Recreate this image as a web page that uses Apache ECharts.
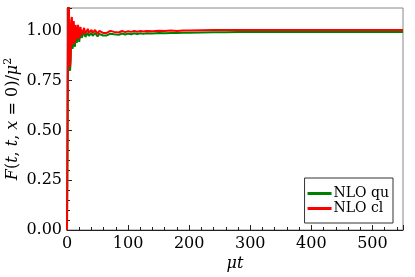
<!DOCTYPE html>
<html><head><meta charset="utf-8">
<script src="https://cdn.jsdelivr.net/npm/echarts@6/dist/echarts.min.js"></script>
<style>html,body{margin:0;padding:0;background:#fff}#c{width:415px;height:277px}</style>
</head><body><div id="c"></div>
<script>
var tValues = [0,1,2,3,4,5,6,7,8,9,10,11,12,13,14,15,16,17,18,19,20,22,24,26,28,30,32,34,36,38,40,42,44,46,48,50,53,56,59,62,65,68,71,74,77,80,85,90,95,100,105,110,115,120,125,130,140,150,160,170,180,190,200,220,240,260,280,300,350,400,450,500,550];
var nloQu = [0,0.5,1.12,1.10,0.92,0.80,0.85,1.01,1.03,0.91,0.93,1.02,0.97,0.92,1.0,1.01,0.94,0.95,1.0,0.98,0.945,1.0,0.965,0.96,0.995,0.97,0.965,0.99,0.975,0.97,0.99,0.975,0.97,0.99,0.98,0.972,0.985,0.976,0.977,0.986,0.977,0.982,0.986,0.978,0.983,0.987,0.98,0.987,0.982,0.987,0.983,0.988,0.984,0.988,0.985,0.988,0.987,0.989,0.988,0.99,0.989,0.991,0.991,0.992,0.993,0.993,0.994,0.994,0.995,0.995,0.995,0.995,0.995];
var nloCl = [0,0.55,1.20,1.15,0.95,0.82,0.88,1.05,1.07,0.93,0.96,1.05,0.99,0.94,1.03,1.04,0.96,0.97,1.03,1.0,0.96,1.02,0.98,0.975,1.015,0.985,0.98,1.01,0.99,0.985,1.005,0.99,0.985,1.005,0.995,0.985,1.0,0.99,0.99,1.0,0.99,0.995,1.0,0.99,0.995,1.0,0.992,1.0,0.994,0.999,0.995,1.0,0.996,1.0,0.997,1.0,0.998,1.001,0.999,1.002,1.0,1.002,1.002,1.003,1.004,1.004,1.005,1.005,1.005,1.005,1.005,1.005,1.005];
var seriesNames = ['NLO qu','NLO cl'];
var seriesColors = ['#008000','#ff0000'];
var xTicks = [0,100,200,300,400,500];
var yTicks = [0,0.25,0.5,0.75,1.0];

function pairs(v){ return tValues.map(function(t,i){return [t,v[i]];}); }
var FONT = 'DejaVu Serif';
var chart = echarts.init(document.getElementById('c'), null, {renderer:'canvas'});
chart.setOption({
  animation:false,
  backgroundColor:'#fff',
  grid:{left:67,right:12,top:8,bottom:47,show:true,borderColor:'#888',borderWidth:1,backgroundColor:'transparent',containLabel:false,outerBoundsMode:'none'},
  legend:{
    right:22, bottom:54, orient:'vertical',
    data:seriesNames.map(function(n){return {name:n,icon:'rect'};}),
    itemWidth:24, itemHeight:3, itemGap:0,
    backgroundColor:'#fff', borderColor:'#333', borderWidth:1, borderRadius:0,
    padding:[8,4,7,3],
    textStyle:{fontFamily:FONT,fontSize:14,color:'#000',lineHeight:15,padding:[0,0,0,-3]}
  },
  xAxis:{
    type:'value', min:0, max:550, interval:100,
    name:'{i|μt}', nameLocation:'middle', nameGap:26, nameMoveOverlap:false,
    nameTextStyle:{rich:{i:{fontFamily:FONT,fontStyle:'italic',fontSize:16,color:'#000'}}},
    axisLine:{show:true,lineStyle:{color:'#222',width:1}},
    axisTick:{show:true,inside:true,length:5,lineStyle:{color:'#222'}},
    minorTick:{show:true,splitNumber:5,length:3,lineStyle:{color:'#222'}},
    splitLine:{show:false},
    axisLabel:{fontFamily:FONT,fontSize:16,color:'#000',margin:6,
      formatter:function(v){return xTicks.indexOf(v)>=0?String(v):'';}}
  },
  yAxis:{
    type:'value', min:0, max:1.115, interval:0.25,
    name:'{i|F}{n|(}{i|t}{n|, }{i|t}{n|, }{i|x}{n| = 0)/}{i|μ}{s|2}',
    nameLocation:'middle', nameGap:45, nameRotate:90, nameMoveOverlap:false,
    nameTextStyle:{rich:{
      i:{fontFamily:FONT,fontStyle:'italic',fontSize:16,color:'#000'},
      n:{fontFamily:FONT,fontSize:16,color:'#000'},
      s:{fontFamily:FONT,fontSize:11,color:'#000',verticalAlign:'top',padding:[0,0,8,0]}
    }},
    axisLine:{show:true,lineStyle:{color:'#222',width:1}},
    axisTick:{show:true,inside:true,length:5,lineStyle:{color:'#222'}},
    minorTick:{show:true,splitNumber:5,length:3,lineStyle:{color:'#222'}},
    splitLine:{show:false},
    axisLabel:{fontFamily:FONT,fontSize:16,color:'#000',margin:5,
      formatter:function(v){
        for(var k=0;k<yTicks.length;k++){ if(Math.abs(yTicks[k]-v)<1e-9) return v.toFixed(2); }
        return '';
      }}
  },
  series:seriesNames.map(function(n,i){
    return {name:n,type:'line',data:pairs(i===0?nloQu:nloCl),showSymbol:false,symbol:'none',
      lineStyle:{color:seriesColors[i],width:2},itemStyle:{color:seriesColors[i]},clip:true,z:2+i};
  })
});
</script></body></html>
